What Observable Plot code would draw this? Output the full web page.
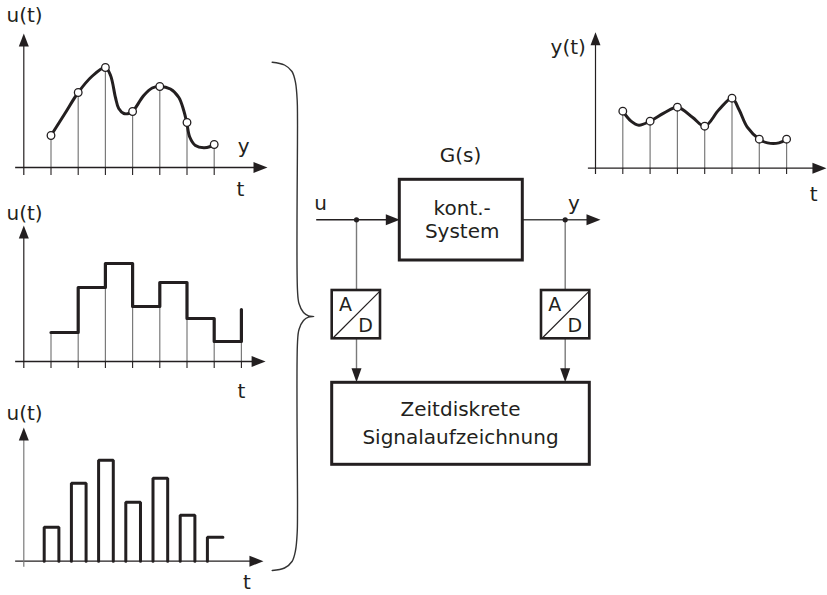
<!DOCTYPE html>
<html>
<head>
<meta charset="utf-8">
<script src="https://cdn.jsdelivr.net/npm/d3@7"></script>
<script src="https://cdn.jsdelivr.net/npm/@observablehq/plot@0.6"></script>
<style>
  html, body { margin: 0; padding: 0; background: #fff; }
  #fig { position: relative; width: 827px; height: 595px; background: #fff; overflow: hidden; }
</style>
</head>
<body>
<div id="fig"></div>
<script>
// ---------------- DATA ----------------
// sample instants (index units)
const sampleT = [1, 2, 3, 4, 5, 6, 7];
// continuous input u(t): sampled values
const uSamples = [32, 75, 100, 56, 81, 45, 23];
// continuous input u(t): curve
const uCurveT = [1.0, 1.5, 2.0, 2.5, 3.0, 3.19, 3.37, 3.49, 3.68, 3.86, 4.0, 4.41, 4.72, 5.0, 5.39, 5.7, 5.88, 5.99, 6.1, 6.31, 6.62, 6.86, 7.0];
const uCurveV = [32, 53.5, 75, 91, 100, 92, 70, 59, 54, 54, 56, 72, 79.5, 81, 78.5, 70, 57, 45, 30.5, 22, 19.7, 21, 23];
// zero-order hold levels (t = 1..8)
const holdT = [1, 2, 3, 4, 5, 6, 7, 8];
const holdLevels = [29, 74, 98, 55, 79, 43, 20, 52];
// pulse heights
const pulseT = [1, 2, 3, 4, 5, 6, 7];
const pulseHeights = [34, 78, 101, 59, 83, 46, 24];
// output y(t)
const ySamples = [57, 47, 61, 42, 70, 29, 29];
const yCurveT = [1.0, 1.3, 1.59, 2.0, 2.5, 3.0, 3.55, 4.0, 4.52, 5.0, 5.26, 5.56, 6.0, 6.3, 6.72, 7.0];
const yCurveV = [57, 47, 43, 47, 55, 61, 51, 42, 58.4, 70, 58.4, 41, 29, 25.3, 25.3, 29];
// texts
const blockTexts = ["G(s)", "kont.-", "System", "Zeitdiskrete", "Signalaufzeichnung", "u", "y"];

// ---------------- STYLE / LAYOUT ----------------
const ink = "#231f20";
const grey = "#7a7a7a";
const FF = "DejaVu Sans";
const fig = document.getElementById("fig");

const arrowRight = {draw(c) { c.moveTo(0, 0); c.lineTo(-14, -5.5); c.lineTo(-14, 5.5); c.closePath(); }};
const arrowUp = {draw(c) { c.moveTo(0, 0); c.lineTo(-5, 13); c.lineTo(5, 13); c.closePath(); }};
const arrowDown = {draw(c) { c.moveTo(0, 0); c.lineTo(-5, -14); c.lineTo(5, -14); c.closePath(); }};

function layer(x, y, marks) {
  const svg = Plot.plot({
    width: 827, height: 595, margin: 0,
    x: {...x, axis: null}, y: {...y, axis: null},
    style: {position: "absolute", left: "0px", top: "0px", background: "transparent", overflow: "visible"},
    marks
  });
  fig.appendChild(svg);
}

function axes(o) {
  return [
    Plot.ruleY([0], {x1: o.xStart, x2: o.xTip - 0.2, stroke: ink, strokeWidth: 1.3}),
    Plot.ruleX([0], {y1: o.yBottom, y2: o.yTip - 4, stroke: o.yColor || ink, strokeWidth: 1.2}),
    Plot.ruleX(o.ticks, {x: d => d, y1: 0, y2: o.yBottom, stroke: ink, strokeWidth: 1.1}),
    Plot.dot([0], {x: o.xTip, y: 0, symbol: arrowRight, r: 5, fill: ink, stroke: "none"}),
    Plot.dot([0], {x: 0, y: o.yTip, symbol: arrowUp, r: 5, fill: ink, stroke: "none"})
  ];
}
function label(text, x, y, size = 20) {
  return Plot.text([text], {x: () => x, y: () => y, text: d => d, fontSize: size, fontFamily: FF, fill: ink});
}
const txt = (s, x, y, size = 20) => Plot.text([s], {x: [x], y: [y], text: [s], fontSize: size, fontFamily: FF, fill: ink});

// ---------- Panel A: continuous u(t) with samples ----------
{
  const curve = uCurveT.map((t, i) => ({t, v: uCurveV[i]}));
  const samples = sampleT.map((t, i) => ({t, v: uSamples[i]}));
  layer({domain: [0, 9], range: [23.3, 23.3 + 9 * 27.2]}, {domain: [0, 100], range: [167, 67]}, [
    Plot.ruleX(samples, {x: "t", y1: 0, y2: "v", stroke: grey, strokeWidth: 1.2}),
    ...axes({xStart: -0.3, xTip: 8.96, yBottom: -8, yTip: 134, ticks: sampleT}),
    Plot.line(curve, {x: "t", y: "v", curve: "catmull-rom", stroke: ink, strokeWidth: 3}),
    Plot.dot(samples, {x: "t", y: "v", r: 3.8, fill: "white", stroke: ink, strokeWidth: 1.3}),
    txt("u(t)", 0.03, 152),
    txt("y", 8.08, 21),
    txt("t", 7.96, -22)
  ]);
}

// ---------- Panel B: zero-order hold ----------
{
  const steps = holdT.map((t, i) => ({t, v: holdLevels[i]}));
  layer({domain: [0, 9], range: [23.3, 23.3 + 9 * 27.2]}, {domain: [0, 100], range: [361, 261]}, [
    Plot.ruleX(steps, {x: "t", y1: 0, y2: "v", stroke: grey, strokeWidth: 1.2}),
    ...axes({xStart: -0.3, xTip: 8.89, yBottom: -7, yTip: 136, ticks: holdT}),
    Plot.line(steps, {x: "t", y: "v", curve: "step-after", stroke: ink, strokeWidth: 3.2}),
    txt("u(t)", 0.03, 148),
    txt("t", 8.0, -30)
  ]);
}

// ---------- Panel C: pulses ----------
{
  const half = 0.27;
  const pts = [];
  pulseT.forEach((t, i) => {
    const h = pulseHeights[i], x1 = t - half + 0.02, x2 = t + half + 0.02;
    if (i < pulseT.length - 1) {
      pts.push({k: i, x: x1, y: 0}, {k: i, x: x1, y: h}, {k: i, x: x2, y: h}, {k: i, x: x2, y: 0});
    } else {
      pts.push({k: i, x: x1, y: 0}, {k: i, x: x1, y: h}, {k: i, x: x2 + 0.03, y: h});
    }
  });
  layer({domain: [0, 9], range: [23.3, 23.3 + 9 * 27.2]}, {domain: [0, 100], range: [560.7, 460.7]}, [
    Plot.ruleY([0], {x1: -0.3, x2: 8.6, stroke: ink, strokeWidth: 1.3}),
    Plot.ruleX([0], {y1: -6, y2: 128, stroke: grey, strokeWidth: 1.2}),
    Plot.dot([0], {x: 8.81, y: 0, symbol: arrowRight, r: 5, fill: ink, stroke: "none"}),
    Plot.dot([0], {x: 0, y: 133.7, symbol: arrowUp, r: 5, fill: ink, stroke: "none"}),
    Plot.line(pts, {x: "x", y: "y", z: "k", stroke: ink, strokeWidth: 3, strokeLinejoin: "miter"}),
    txt("u(t)", 0.03, 147.7),
    txt("t", 8.2, -21.3)
  ]);
}

// ---------- Panel D: output y(t) ----------
{
  const curve = yCurveT.map((t, i) => ({t, v: yCurveV[i]}));
  const samples = sampleT.map((t, i) => ({t, v: ySamples[i]}));
  layer({domain: [0, 9], range: [595, 595 + 9 * 27.3]}, {domain: [0, 100], range: [167.7, 67.7]}, [
    Plot.ruleX(samples, {x: "t", y1: 0, y2: "v", stroke: grey, strokeWidth: 1.2}),
    ...axes({xStart: -0.26, xTip: 8.46, yBottom: -6.3, yTip: 136, ticks: sampleT}),
    Plot.line(curve, {x: "t", y: "v", curve: "catmull-rom", stroke: ink, strokeWidth: 3}),
    Plot.dot(samples, {x: "t", y: "v", r: 3.8, fill: "white", stroke: ink, strokeWidth: 1.3}),
    txt("y(t)", -1.0, 120.7),
    txt("t", 7.99, -26.3)
  ]);
}

// ---------- Block diagram + brace (pixel layout) ----------
{
  const brace = [
    [271.7, 61.7], [284, 64.5], [291.5, 71], [295, 82], [296.7, 100], [297, 120], [297, 290],
    [298.5, 303], [303, 312], [308, 315.3], [313.3, 316], [308, 316.7], [303, 320], [298.5, 329],
    [297, 342], [297, 510], [296.7, 532], [295, 550], [291.5, 561], [284, 567.5], [271.7, 570]
  ].map(([x, y]) => ({x, y}));
  const boxes = [
    {x1: 399.3, x2: 522.3, y1: 179.3, y2: 260, w: 3},
    {x1: 331.7, x2: 380, y1: 290, y2: 338.3, w: 2.6},
    {x1: 541, x2: 589.3, y1: 290, y2: 338.3, w: 2.6},
    {x1: 331.7, x2: 589.3, y1: 382.3, y2: 464.3, w: 3}
  ];
  const links = [
    {x1: 315.7, y1: 219.3, x2: 392, y2: 219.3, c: ink, w: 1.4},
    {x1: 522.3, y1: 219.3, x2: 592, y2: 219.3, c: "#444", w: 1.4},
    {x1: 356, y1: 219.3, x2: 356, y2: 290, c: grey, w: 1.4},
    {x1: 564.7, y1: 219.3, x2: 564.7, y2: 290, c: grey, w: 1.4},
    {x1: 356, y1: 338.3, x2: 356, y2: 375, c: grey, w: 1.4},
    {x1: 564.7, y1: 338.3, x2: 564.7, y2: 375, c: grey, w: 1.4},
    {x1: 332.5, y1: 337.5, x2: 379.2, y2: 290.8, c: ink, w: 1.2},
    {x1: 541.8, y1: 337.5, x2: 588.5, y2: 290.8, c: ink, w: 1.2}
  ];
  layer({domain: [0, 827], range: [0, 827]}, {domain: [0, 595], range: [0, 595]}, [
    Plot.line(brace, {x: "x", y: "y", curve: "catmull-rom", stroke: "#333", strokeWidth: 1.4}),
    Plot.link(links, {x1: "x1", y1: "y1", x2: "x2", y2: "y2", stroke: "c", strokeWidth: "w"}),
    Plot.rect(boxes, {x1: "x1", x2: "x2", y1: "y1", y2: "y2", fill: "white", stroke: ink, strokeWidth: "w"}),
    Plot.link(links.slice(6), {x1: "x1", y1: "y1", x2: "x2", y2: "y2", stroke: ink, strokeWidth: 1.2}),
    Plot.dot([0], {x: 399.3, y: 219.3, symbol: arrowRight, r: 5, fill: ink, stroke: "none"}),
    Plot.dot([0], {x: 600, y: 219.3, symbol: arrowRight, r: 5, fill: ink, stroke: "none"}),
    Plot.dot([0, 1], {x: [356, 564.7], y: [381.7, 381.7], symbol: arrowDown, r: 5, fill: ink, stroke: "none"}),
    Plot.dot([0, 1], {x: [356, 564.7], y: [219.3, 219.3], r: 2.6, fill: ink, stroke: "none"}),
    txt(blockTexts[0], 460, 155),
    txt(blockTexts[1], 461.7, 208.5),
    txt(blockTexts[2], 461.7, 231),
    txt(blockTexts[3], 460, 409.5),
    txt(blockTexts[4], 460, 437),
    txt(blockTexts[5], 320, 203),
    txt(blockTexts[6], 573.3, 203),
    txt("A", 345, 304.5, 19), txt("D", 365, 325.5, 19),
    txt("A", 554.3, 304.5, 19), txt("D", 574.3, 325.5, 19)
  ]);
}
</script>
</body>
</html>
